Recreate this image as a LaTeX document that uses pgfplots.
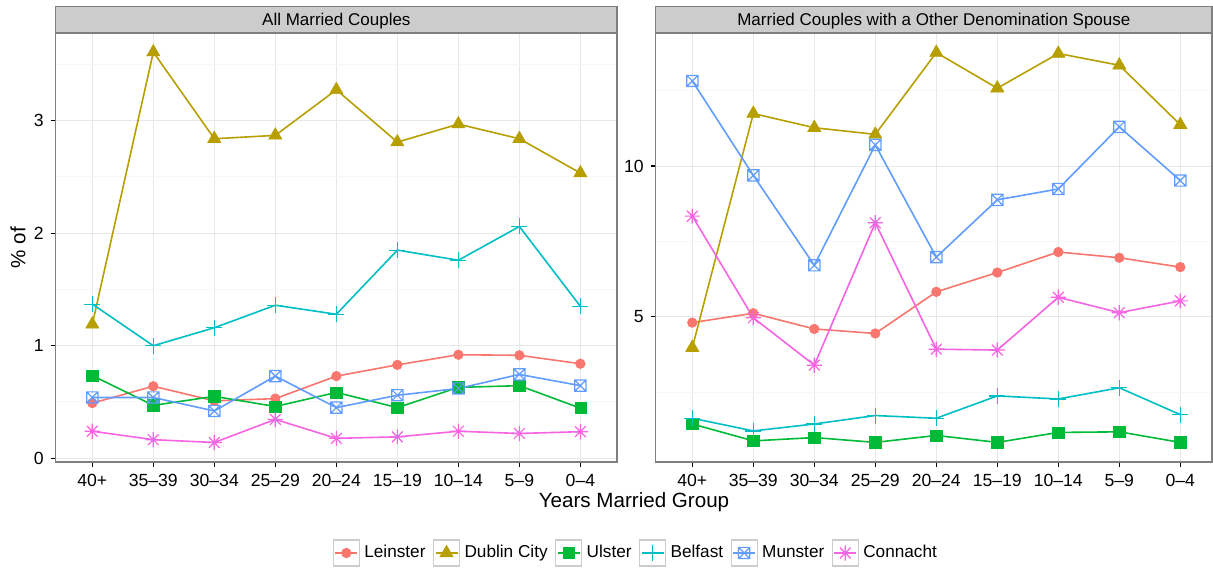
\documentclass[border=0pt]{standalone}
\usepackage{fontspec}
\setmainfont{Liberation Sans}
\usepackage{pgfplots}
\usepackage{pgfplotstable}
\pgfplotsset{compat=1.18}

\definecolor{cLe}{HTML}{F8766D}
\definecolor{cDu}{HTML}{B79F00}
\definecolor{cUl}{HTML}{00BA38}
\definecolor{cBe}{HTML}{00BFC4}
\definecolor{cMu}{HTML}{619CFF}
\definecolor{cCo}{HTML}{F564E3}
\definecolor{grey50}{HTML}{7F7F7F}
\definecolor{grey80}{HTML}{CCCCCC}
\definecolor{grey90}{HTML}{E8E8E8}
\definecolor{grey98}{HTML}{F7F7F7}

\pgfdeclareplotmark{sqx}{%
  \pgfpathrectangle{\pgfqpoint{-\pgfplotmarksize}{-\pgfplotmarksize}}{\pgfqpoint{2\pgfplotmarksize}{2\pgfplotmarksize}}%
  \pgfpathmoveto{\pgfqpoint{-\pgfplotmarksize}{-\pgfplotmarksize}}\pgfpathlineto{\pgfqpoint{\pgfplotmarksize}{\pgfplotmarksize}}%
  \pgfpathmoveto{\pgfqpoint{-\pgfplotmarksize}{\pgfplotmarksize}}\pgfpathlineto{\pgfqpoint{\pgfplotmarksize}{-\pgfplotmarksize}}%
  \pgfusepathqstroke}
\pgfdeclareplotmark{ast8}{%
  \pgfpathmoveto{\pgfqpoint{-\pgfplotmarksize}{0pt}}\pgfpathlineto{\pgfqpoint{\pgfplotmarksize}{0pt}}%
  \pgfpathmoveto{\pgfqpoint{0pt}{-\pgfplotmarksize}}\pgfpathlineto{\pgfqpoint{0pt}{\pgfplotmarksize}}%
  \pgfpathmoveto{\pgfqpoint{-0.7071\pgfplotmarksize}{-0.7071\pgfplotmarksize}}\pgfpathlineto{\pgfqpoint{0.7071\pgfplotmarksize}{0.7071\pgfplotmarksize}}%
  \pgfpathmoveto{\pgfqpoint{-0.7071\pgfplotmarksize}{0.7071\pgfplotmarksize}}\pgfpathlineto{\pgfqpoint{0.7071\pgfplotmarksize}{-0.7071\pgfplotmarksize}}%
  \pgfusepathqstroke}

\pgfplotstableread{
x Leinster Dublin Ulster Belfast Munster Connacht
0 0.49 1.19 0.735 1.37 0.54 0.24
1 0.64 3.61 0.47 1.00 0.54 0.165
2 0.51 2.84 0.55 1.16 0.42 0.14
3 0.53 2.87 0.46 1.36 0.73 0.345
4 0.73 3.275 0.585 1.28 0.45 0.177
5 0.83 2.81 0.45 1.85 0.56 0.19
6 0.92 2.97 0.63 1.76 0.62 0.24
7 0.915 2.84 0.645 2.06 0.745 0.22
8 0.84 2.535 0.445 1.35 0.645 0.236
}\allcouples

\pgfplotstableread{
x Leinster Dublin Ulster Belfast Munster Connacht
0 4.81 3.98 1.45 1.64 12.82 8.34
1 5.12 11.74 0.89 1.22 9.69 4.97
2 4.60 11.27 1.00 1.45 6.71 3.40
3 4.45 11.05 0.84 1.73 10.70 8.12
4 5.83 13.76 1.07 1.64 6.98 3.93
5 6.47 12.58 0.84 2.38 8.88 3.90
6 7.15 13.73 1.17 2.28 9.24 5.65
7 6.96 13.34 1.19 2.65 11.30 5.14
8 6.65 11.37 0.84 1.76 9.52 5.53
}\otherdenom

\pgfplotsset{
  panel/.style={
    scale only axis,
    height=214.5pt,
    xmin=-0.6,
    xtick={0,...,8},
    xticklabels={40+,35–39,30–34,25–29,20–24,15–19,10–14,5–9,0–4},
    tick pos=left,
    axis line style={draw=grey50, line width=0.7pt},
    tick style={black, line width=0.6pt},
    tick align=outside,
    major tick length=2.5pt,
    minor tick length=0pt,
    xmajorgrids, ymajorgrids, yminorgrids,
    major grid style={draw=grey90, line width=0.5pt},
    minor grid style={draw=grey98, line width=0.5pt},
    /pgf/number format/assume math mode=true,
    ticklabel style={font=\fontsize{8.8}{10}\selectfont, text=black},
    every axis title/.style={at={(axis description cs:0.5,1)}, anchor=south, fill=grey80, draw=grey50,
      line width=0.7pt, minimum height=12.85pt, inner sep=0pt, text depth=0pt,
      font=\fontsize{8.5}{10}\selectfont},
    every axis plot/.append style={line width=0.8pt},
    legend image code/.code={
      \draw[draw=grey80, line width=0.6pt, fill=white, solid] (0pt,-6.5pt) rectangle (13pt,6.5pt);
      \draw[mark repeat=2, mark phase=2] plot coordinates {(1pt,0pt) (6.5pt,0pt) (12pt,0pt)};
    },
  },
  sLe/.style={color=cLe, mark=*, mark size=2.4pt, mark options={solid, fill=cLe, draw=cLe, line width=0.3pt}},
  sDu/.style={color=cDu, mark=triangle*, mark size=3.8pt, mark options={solid, fill=cDu, draw=cDu, line width=0.3pt}},
  sUl/.style={color=cUl, mark=square*, mark size=2.8pt, mark options={solid, fill=cUl, draw=cUl, line width=0.3pt}},
  sBe/.style={color=cBe, mark=+, mark size=4pt, mark options={solid, line width=0.6pt}},
  sMu/.style={color=cMu, mark=sqx, mark size=2.8pt, mark options={solid, line width=0.6pt}},
  sCo/.style={color=cCo, mark=ast8, mark size=3.8pt, mark options={solid, line width=0.6pt}},
}

\begin{document}
\begin{tikzpicture}
\path[use as bounding box] (0,0) rectangle (606.5pt,286.5pt);

\begin{axis}[panel,
  at={(27.85pt,55.5pt)}, anchor=south west,
  width=280.65pt, xmax=8.6,
  ymin=-0.0335, ymax=3.78,
  ytick={0,1,2,3}, minor ytick={0.5,1.5,2.5,3.5},
  title={All Married Couples},
  title style={minimum width=280.65pt},
  ylabel={\% of},
  ylabel style={at={(axis description cs:-0.067,0.5)}, anchor=center, font=\fontsize{10.3}{12}\selectfont},
  xlabel={Years Married Group},
  xlabel style={at={(axis description cs:1.0303,-0.1056)}, anchor=base, font=\fontsize{10.3}{12}\selectfont},
  legend columns=6,
  legend style={draw=none, fill=none, at={(axis description cs:1.0357,-0.2121)}, anchor=center,
    font=\fontsize{8.6}{10}\selectfont, column sep=0pt,
    /tikz/every odd column/.append style={column sep=0pt},
    /tikz/every even column/.append style={column sep=1.5pt},
    nodes={inner sep=2.2pt}},
]
\addplot[sLe] table[x=x, y=Leinster] {\allcouples};
\addlegendentry{Leinster}
\addplot[sDu] table[x=x, y=Dublin] {\allcouples};
\addlegendentry{Dublin City}
\addplot[sUl] table[x=x, y=Ulster] {\allcouples};
\addlegendentry{Ulster}
\addplot[sBe] table[x=x, y=Belfast] {\allcouples};
\addlegendentry{Belfast}
\addplot[sMu] table[x=x, y=Munster] {\allcouples};
\addlegendentry{Munster}
\addplot[sCo] table[x=x, y=Connacht] {\allcouples};
\addlegendentry{Connacht}
\end{axis}

\begin{axis}[panel,
  at={(327.85pt,55.5pt)}, anchor=south west,
  width=278.15pt, xmax=8.52,
  ymin=0.19, ymax=14.41,
  ytick={5,10}, minor ytick={2.5,7.5,12.5},
  title={Married Couples with a Other Denomination Spouse},
  title style={minimum width=278.15pt},
]
\addplot[sLe] table[x=x, y=Leinster] {\otherdenom};
\addplot[sDu] table[x=x, y=Dublin] {\otherdenom};
\addplot[sUl] table[x=x, y=Ulster] {\otherdenom};
\addplot[sBe] table[x=x, y=Belfast] {\otherdenom};
\addplot[sMu] table[x=x, y=Munster] {\otherdenom};
\addplot[sCo] table[x=x, y=Connacht] {\otherdenom};
\end{axis}
\end{tikzpicture}
\end{document}
